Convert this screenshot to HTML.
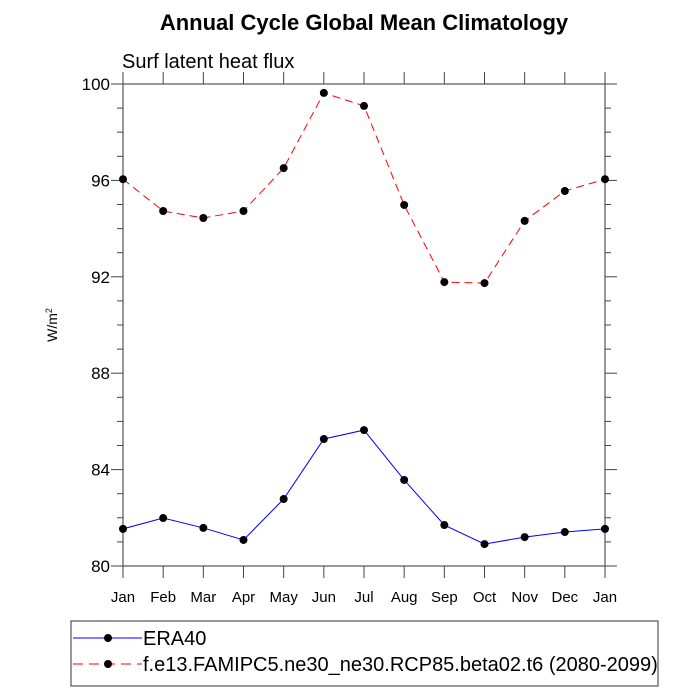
<!DOCTYPE html>
<html><head><meta charset="utf-8"><style>
body{margin:0;background:#fff;}
svg{display:block;font-family:"Liberation Sans",sans-serif;}
</style></head><body>
<svg id="chart" width="700" height="700" viewBox="0 0 700 700">
<text x="364" y="30" text-anchor="middle" font-size="22" font-weight="bold">Annual Cycle Global Mean Climatology</text>
<text x="122" y="68" font-size="20">Surf latent heat flux</text>
<text transform="translate(57,325) rotate(-90)" text-anchor="middle" font-size="14">W/m<tspan dy="-5" font-size="9">2</tspan></text>
<rect x="123" y="84" width="482" height="482" fill="none" stroke="#555" stroke-width="1.2"/>
<g id="axes"></g>
<g id="series"></g>
<rect x="71" y="621" width="587" height="65" fill="none" stroke="#555" stroke-width="1.2"/>
<g>
<line x1="73" y1="638" x2="142" y2="638" stroke="#00f" stroke-width="1"/>
<circle cx="108" cy="638" r="4" fill="#000"/>
<text x="143" y="645" font-size="20">ERA40</text>
</g>
<g>
<line x1="73" y1="664" x2="142" y2="664" stroke="#f00" stroke-width="1" stroke-dasharray="10,6"/>
<circle cx="108" cy="664" r="4" fill="#000"/>
<text x="143" y="671" font-size="20">f.e13.FAMIPC5.ne30_ne30.RCP85.beta02.t6 (2080-2099)</text>
</g>
</svg>
<script>
const months=["Jan","Feb","Mar","Apr","May","Jun","Jul","Aug","Sep","Oct","Nov","Dec","Jan"];
const era40=[81.54,81.99,81.58,81.08,82.78,85.27,85.64,83.57,81.70,80.91,81.20,81.41,81.54];
const model=[96.05,94.73,94.44,94.73,96.51,99.63,99.09,94.98,91.78,91.74,94.32,95.56,96.05];
const yTicks=[80,84,88,92,96,100];
const NS="http://www.w3.org/2000/svg";
const X0=123,X1=605,Y0=566,Y1=84,YMIN=80,YMAX=100;
const xs=i=>X0+i*(X1-X0)/(months.length-1);
const ys=v=>Y0-(v-YMIN)*(Y0-Y1)/(YMAX-YMIN);
function mk(tag,attrs,parent){const e=document.createElementNS(NS,tag);for(const k in attrs)e.setAttribute(k,attrs[k]);parent.appendChild(e);return e;}
const axes=document.getElementById('axes');
for(let v=YMIN;v<=YMAX;v+=1){
  const major=(v%4===0);const L=major?12:6;const y=ys(v);
  const t1=mk('line',{x1:X0,y1:y,x2:X0-L,y2:y,stroke:'#444'},axes);
  
  
  const t2=mk('line',{x1:X1,y1:y,x2:X1+L,y2:y,stroke:'#444'},axes);
  
  
}
yTicks.forEach(v=>{
  const t=mk('text',{x:X0-13,y:ys(v)+6,'text-anchor':'end','font-size':'17'},axes);
  t.textContent=v;
  
  
});
months.forEach((m,i)=>{
  const x=xs(i);
  const a=mk('line',{x1:x,y1:Y0,x2:x,y2:Y0+12,stroke:'#444'},axes);
  
  
  const b=mk('line',{x1:x,y1:Y1,x2:x,y2:Y1-12,stroke:'#444'},axes);
  
  
  const t=mk('text',{x:x,y:602,'text-anchor':'middle','font-size':'15'},axes);
  t.textContent=m;
  
  
});
const ser=document.getElementById('series');
function draw(vals,color,dash,name){
  const g=mk('g',{},ser);
  
  
  const p=mk('polyline',{points:vals.map((v,i)=>xs(i)+','+ys(v)).join(' '),fill:'none',stroke:color,'stroke-width':1,'stroke-dasharray':dash},g);
  
  
  vals.forEach((v,i)=>{
    const c=mk('circle',{cx:xs(i),cy:ys(v),r:4,fill:'#000'},g);
    
    
  });
}
draw(model,'#f00','8,5','model-series');
draw(era40,'#00f','none','era40-series');
</script>
</body></html>
